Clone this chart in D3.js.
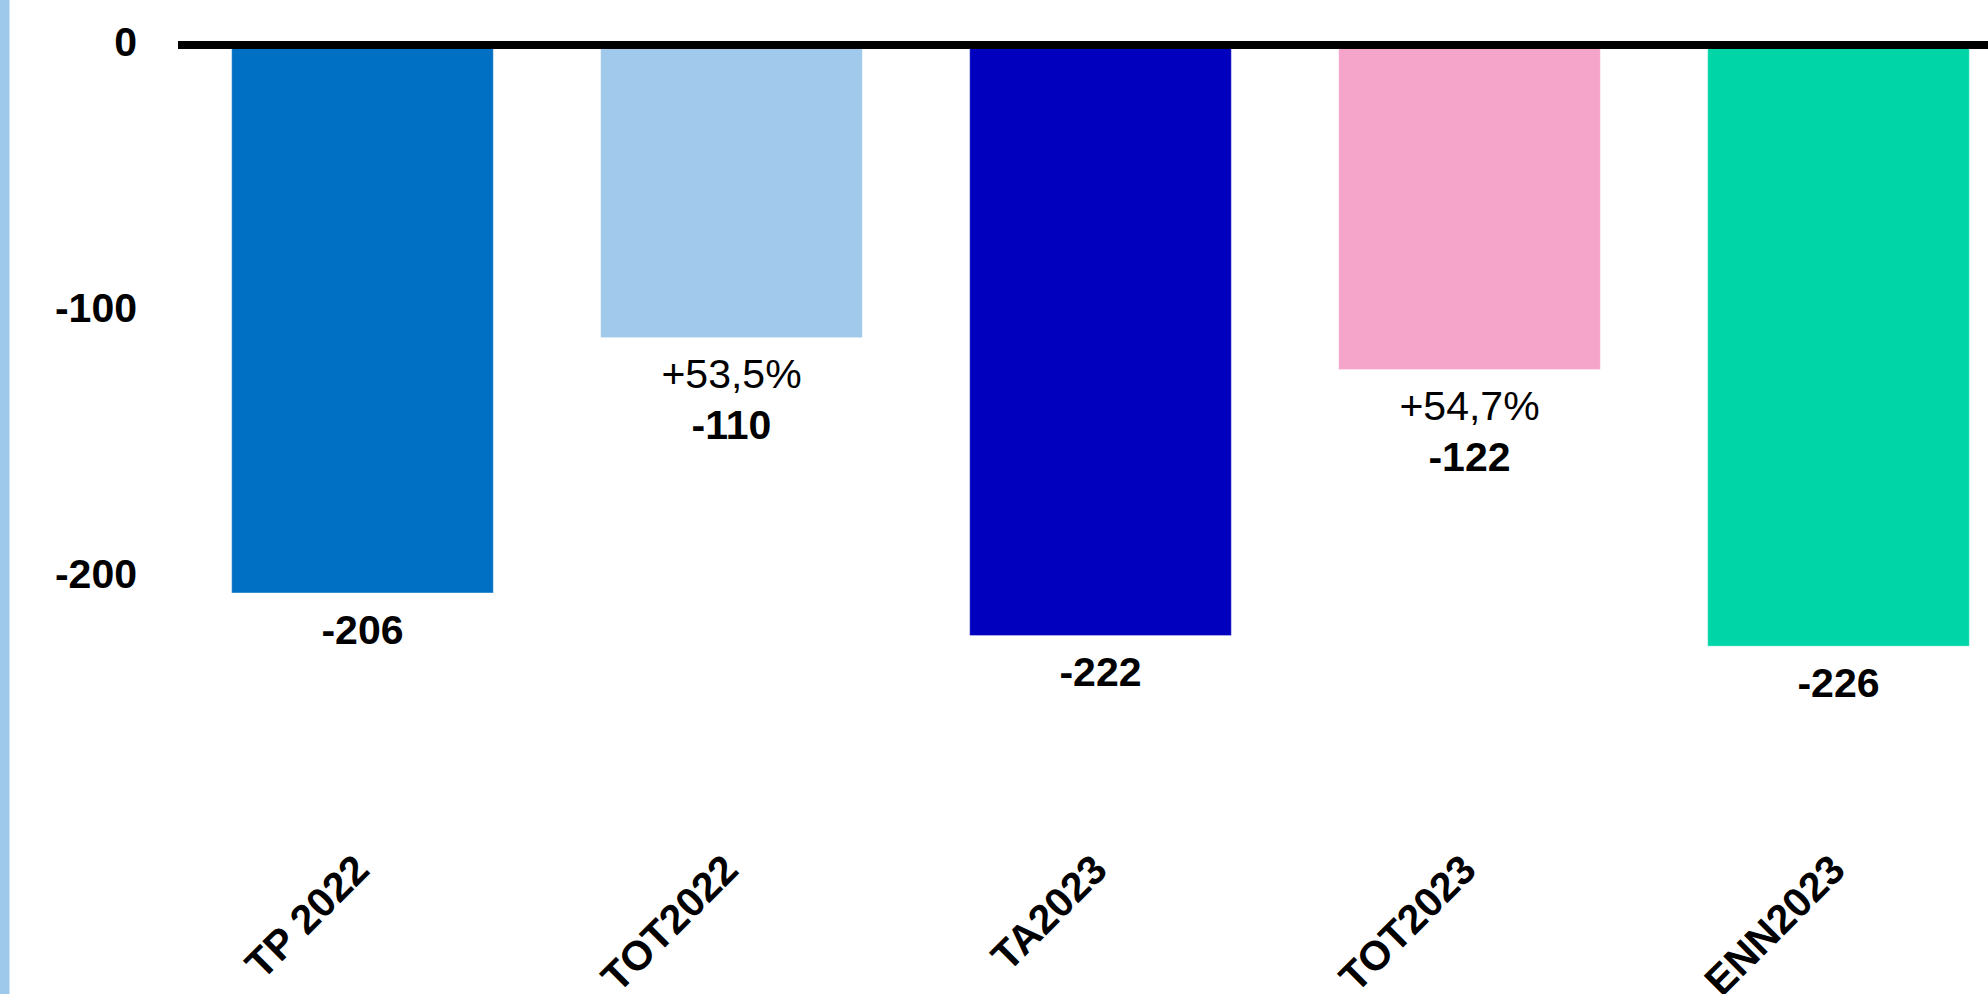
<!DOCTYPE html>
<html>
<head>
<meta charset="utf-8">
<script src="https://cdn.jsdelivr.net/npm/d3@7"></script>
<style>
  html, body { margin: 0; padding: 0; background: #ffffff; }
  svg { display: block; }
  text { font-family: "Liberation Sans", Arial, sans-serif; fill: #000; }
</style>
</head>
<body>
<svg id="chart" width="1988" height="994"></svg>
<script>
// Categories and values
const categories = ["TP 2022", "TOT2022", "TA2023", "TOT2023", "ENN2023"];
const values = [-206, -110, -222, -122, -226];
const changeLabels = [null, "+53,5%", null, "+54,7%", null];
const barColors = ["#0070C4", "#A0C9EB", "#0000BE", "#F5A4CA", "#00D5A8"];
const yTicks = [0, -100, -200];

const W = 1988, H = 994;
const svg = d3.select("#chart");

// Integer format with a plain hyphen as the minus sign
const fmt = d3.formatLocale({
  decimal: ",", thousands: ".", grouping: [3], currency: ["", ""], minus: "-"
}).format("d");

// Light blue strip along the left edge
svg.append("rect")
  .attr("x", 0).attr("y", 0)
  .attr("width", 9.5).attr("height", H)
  .attr("fill", "#9FC9EA");

const x = d3.scaleBand()
  .domain(categories)
  .range([178, 178 + 5 * 369])
  .paddingInner(0.291)
  .paddingOuter(0.1455);

const y = d3.scaleLinear()
  .domain([0, -250])
  .range([45, 45 + 2.66 * 250]);

const data = categories.map((c, i) => ({
  cat: c, value: values[i], change: changeLabels[i], color: barColors[i]
}));

// Bars
svg.append("g").selectAll("rect")
  .data(data)
  .join("rect")
  .attr("x", d => x(d.cat))
  .attr("y", y(0))
  .attr("width", x.bandwidth())
  .attr("height", d => y(d.value) - y(0))
  .attr("fill", d => d.color)
  .attr("stroke", "rgba(255,255,255,0.35)")
  .attr("stroke-width", 1);

// Zero baseline
svg.append("line")
  .attr("x1", x.range()[0]).attr("x2", W)
  .attr("y1", y(0)).attr("y2", y(0))
  .attr("stroke", "#000").attr("stroke-width", 8);

// Y axis tick labels
const yAxis = d3.axisLeft(y).tickValues(yTicks).tickSize(0).tickPadding(0)
  .tickFormat(fmt);
const yg = svg.append("g").attr("transform", "translate(137,0)").call(yAxis);
yg.select(".domain").remove();
yg.selectAll("text")
  .attr("font-family", "Liberation Sans, Arial, sans-serif")
  .attr("font-size", 41)
  .attr("font-weight", "bold")
  .attr("fill", "#000")
  .attr("dy", "0.26em");

// Percentage change labels under the bars
const labels = svg.append("g");
labels.selectAll("text.change")
  .data(data.filter(d => d.change))
  .join("text")
  .attr("class", "change")
  .attr("x", d => x(d.cat) + x.bandwidth() / 2)
  .attr("y", d => y(d.value) + 36)
  .attr("dy", "0.36em")
  .attr("text-anchor", "middle")
  .attr("font-size", 41)
  .text(d => d.change);

// Value labels under the bars
labels.selectAll("text.value")
  .data(data)
  .join("text")
  .attr("class", "value")
  .attr("x", d => x(d.cat) + x.bandwidth() / 2)
  .attr("y", d => y(d.value) + (d.change ? 87 : 36))
  .attr("dy", "0.36em")
  .attr("text-anchor", "middle")
  .attr("font-size", 41)
  .attr("font-weight", "bold")
  .text(d => fmt(d.value));

// Rotated category labels
svg.append("g").selectAll("text")
  .data(data)
  .join("text")
  .attr("transform", d => `translate(${x(d.cat) + x.bandwidth() / 2 + 9},872) rotate(-45)`)
  .attr("text-anchor", "end")
  .attr("font-size", 41)
  .attr("font-weight", "bold")
  .text(d => d.cat);
</script>
</body>
</html>
